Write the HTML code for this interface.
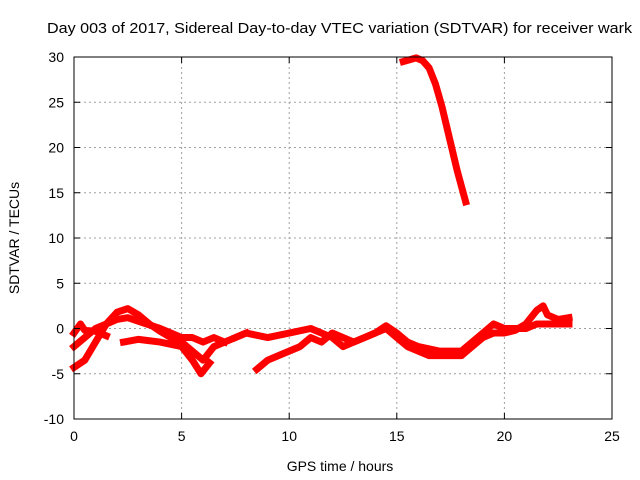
<!DOCTYPE html>
<html><head><meta charset="utf-8"><style>
body{margin:0;background:#fff;}
svg{display:block;font-family:"Liberation Sans",sans-serif;}
</style></head><body>
<svg id="c" width="640" height="480">
<text x="47" y="33" font-size="15" textLength="585" lengthAdjust="spacingAndGlyphs">Day 003 of 2017, Sidereal Day-to-day VTEC variation (SDTVAR) for receiver wark</text>
<text x="340" y="471" font-size="14" text-anchor="middle">GPS time / hours</text>
<text transform="translate(19,238) rotate(-90)" font-size="14" text-anchor="middle">SDTVAR / TECUs</text>
<g id="grid"></g><g id="series"></g><g id="axes"></g>
</svg>
<script>
const xTicks=[0,5,10,15,20,25];
const yTicks=[-10,-5,0,5,10,15,20,25,30];
const seriesA=[[0,-4.3],[0.5,-3.5],[1,-1.5],[1.5,0.5],[2,1.8],[2.5,2.2],[3,1.5],[3.5,0.5],[4,-0.3],[4.5,-1],[5,-1.5],[5.5,-2.5],[6,-3.5],[6.5,-2],[7,-1.5],[7.5,-1],[8,-0.5]];
const seriesB=[[0,-2],[0.5,-1],[1,0],[1.5,0.5],[2,1],[2.5,1.2],[3,0.8],[4,0],[4.5,-0.5],[5,-1],[5.5,-1],[6,-1.5],[6.5,-1],[7,-1.5]];
const seriesC=[[0,-0.5],[0.3,0.5],[0.5,-0.2],[1,-0.3],[1.5,-0.8]];
const seriesD=[[2.3,-1.5],[3,-1.2],[4,-1.5],[5,-2],[5.5,-3.5],[5.9,-5],[6.3,-3.8]];
const seriesE=[[8.5,-4.5],[9,-3.5],[9.5,-3],[10,-2.5],[10.5,-2],[11,-1],[11.5,-1.5],[12,-0.5],[13,-1.5],[13.5,-1],[14,-0.5],[14.5,0],[15,-1],[15.5,-2],[16,-2.5],[16.5,-3],[17,-3],[17.5,-3],[18,-3],[18.5,-2],[19,-1],[19.5,-0.5],[20,-0.5],[20.5,-0.2],[21,0.5],[21.5,2],[21.8,2.5],[22,1.5],[22.5,1],[23,1.2]];
const seriesF=[[7.5,-1],[8,-0.5],[9,-1],[10,-0.5],[11,0],[12,-1],[12.5,-2],[13,-1.5],[14,-0.5],[14.5,0.3],[15,-0.5],[15.5,-1.5],[16,-2],[17,-2.5],[18,-2.5],[19,-0.5],[19.5,0.5],[20,0],[21,0],[21.5,0.5],[22,0.5],[23,0.5]];
const seriesTop=[[15.3,29.5],[15.6,29.7],[15.9,29.9],[16.2,29.6],[16.5,28.8],[16.8,27],[17.1,24.5],[17.4,21.5],[17.8,17.5],[18.2,14]];
const NS="http://www.w3.org/2000/svg";
const x0=74,x1=612,y0=419,y1=57;
const sx=v=>x0+(v-0)/(25-0)*(x1-x0);
const sy=v=>y0-(v+10)/40*(y0-y1);
const grid=document.getElementById('grid'),axes=document.getElementById('axes'),ser=document.getElementById('series');
function mk(t,a,p){const e=document.createElementNS(NS,t);for(const k in a)e.setAttribute(k,a[k]);p.appendChild(e);return e;}
xTicks.forEach(t=>{
 if(t>0&&t<25){const l=mk('line',{x1:sx(t),x2:sx(t),y1:y1,y2:y0,stroke:'#a0a0a0','stroke-dasharray':'2,3'},grid);
 
 }
 const tx=mk('text',{x:sx(t),y:y0+22,'font-size':14,'text-anchor':'middle'},axes);tx.textContent=t;
 
 
 mk('line',{x1:sx(t),x2:sx(t),y1:y0,y2:y0-6,stroke:'#000'},axes);
 mk('line',{x1:sx(t),x2:sx(t),y1:y1,y2:y1+6,stroke:'#000'},axes);
});
yTicks.forEach(t=>{
 if(t>-10&&t<30){const l=mk('line',{x1:x0,x2:x1,y1:sy(t),y2:sy(t),stroke:'#a0a0a0','stroke-dasharray':'2,3'},grid);
 
 }
 const tx=mk('text',{x:x0-10,y:sy(t)+5,'font-size':14,'text-anchor':'end'},axes);tx.textContent=t;
 
 
 mk('line',{x1:x0,x2:x0+6,y1:sy(t),y2:sy(t),stroke:'#000'},axes);
 mk('line',{x1:x1,x2:x1-6,y1:sy(t),y2:sy(t),stroke:'#000'},axes);
});
const fr=mk('rect',{x:x0,y:y1,width:x1-x0,height:y0-y1,fill:'none',stroke:'#000'},axes);


[seriesA,seriesB,seriesC,seriesD,seriesE,seriesF,seriesTop].forEach((s,i)=>{
 const p=mk('polyline',{points:s.map(d=>sx(d[0])+','+sy(d[1])).join(' '),fill:'none',stroke:'#ff0000','stroke-width':7,'stroke-linejoin':'round','stroke-linecap':'square'},ser);
 
 
});
</script>
</body></html>
